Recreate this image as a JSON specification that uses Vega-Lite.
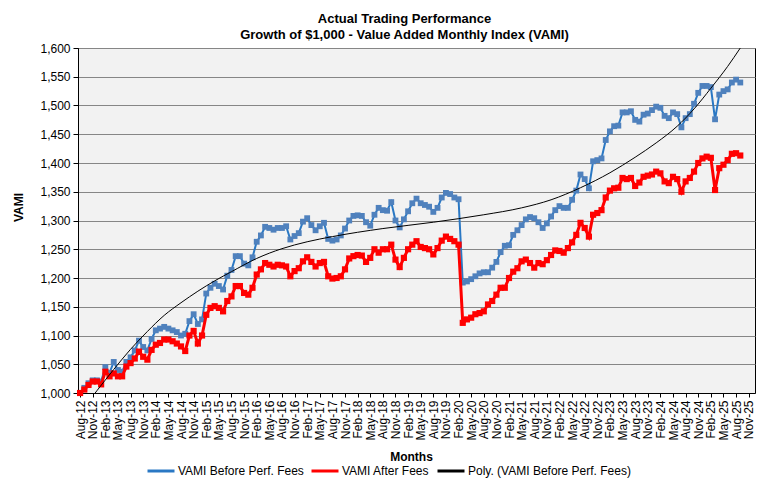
{
  "$schema": "https://vega.github.io/schema/vega-lite/v6.json",
  "width": 677,
  "height": 345,
  "autosize": "none",
  "padding": {"left": 78, "top": 48, "right": 25, "bottom": 99},
  "background": "white",
  "title": {
    "text": ["Actual Trading Performance", "Growth of $1,000 - Value Added Monthly Index (VAMI)"],
    "font": "Liberation Sans",
    "fontSize": 13,
    "fontWeight": "bold",
    "color": "#000000",
    "anchor": "middle",
    "dx": -12,
    "offset": 0,
    "lineHeight": 16
  },
  "datasets": {
    "vami": [
      {"m": 0, "before": 1000, "after": 1000}, {"m": 1, "before": 1009, "after": 1006}, {"m": 2, "before": 1017, "after": 1014},
      {"m": 3, "before": 1022, "after": 1020}, {"m": 4, "before": 1022, "after": 1020}, {"m": 5, "before": 1020, "after": 1015},
      {"m": 6, "before": 1045, "after": 1037}, {"m": 7, "before": 1035, "after": 1029}, {"m": 8, "before": 1054, "after": 1034},
      {"m": 9, "before": 1040, "after": 1029}, {"m": 10, "before": 1037, "after": 1029}, {"m": 11, "before": 1054, "after": 1046},
      {"m": 12, "before": 1062, "after": 1052}, {"m": 13, "before": 1074, "after": 1060}, {"m": 14, "before": 1091, "after": 1072},
      {"m": 15, "before": 1080, "after": 1063}, {"m": 16, "before": 1074, "after": 1058}, {"m": 17, "before": 1094, "after": 1075},
      {"m": 18, "before": 1109, "after": 1084}, {"m": 19, "before": 1112, "after": 1087}, {"m": 20, "before": 1115, "after": 1093},
      {"m": 21, "before": 1112, "after": 1093}, {"m": 22, "before": 1109, "after": 1090}, {"m": 23, "before": 1106, "after": 1086},
      {"m": 24, "before": 1100, "after": 1081}, {"m": 25, "before": 1103, "after": 1073}, {"m": 26, "before": 1125, "after": 1100},
      {"m": 27, "before": 1137, "after": 1108}, {"m": 28, "before": 1120, "after": 1086}, {"m": 29, "before": 1128, "after": 1100},
      {"m": 30, "before": 1173, "after": 1136}, {"m": 31, "before": 1183, "after": 1148}, {"m": 32, "before": 1190, "after": 1151},
      {"m": 33, "before": 1186, "after": 1148}, {"m": 34, "before": 1180, "after": 1142}, {"m": 35, "before": 1204, "after": 1160},
      {"m": 36, "before": 1214, "after": 1168}, {"m": 37, "before": 1238, "after": 1186}, {"m": 38, "before": 1238, "after": 1186},
      {"m": 39, "before": 1225, "after": 1174}, {"m": 40, "before": 1222, "after": 1171}, {"m": 41, "before": 1236, "after": 1183},
      {"m": 42, "before": 1263, "after": 1206}, {"m": 43, "before": 1274, "after": 1215}, {"m": 44, "before": 1289, "after": 1226},
      {"m": 45, "before": 1287, "after": 1223}, {"m": 46, "before": 1284, "after": 1220}, {"m": 47, "before": 1287, "after": 1223},
      {"m": 48, "before": 1287, "after": 1222}, {"m": 49, "before": 1290, "after": 1220}, {"m": 50, "before": 1267, "after": 1203},
      {"m": 51, "before": 1273, "after": 1212}, {"m": 52, "before": 1278, "after": 1217}, {"m": 53, "before": 1298, "after": 1229},
      {"m": 54, "before": 1304, "after": 1236}, {"m": 55, "before": 1292, "after": 1228}, {"m": 56, "before": 1283, "after": 1220},
      {"m": 57, "before": 1290, "after": 1226}, {"m": 58, "before": 1296, "after": 1228}, {"m": 59, "before": 1268, "after": 1203},
      {"m": 60, "before": 1265, "after": 1199}, {"m": 61, "before": 1267, "after": 1200}, {"m": 62, "before": 1274, "after": 1203},
      {"m": 63, "before": 1286, "after": 1215}, {"m": 64, "before": 1300, "after": 1234}, {"m": 65, "before": 1308, "after": 1238},
      {"m": 66, "before": 1309, "after": 1240}, {"m": 67, "before": 1308, "after": 1239}, {"m": 68, "before": 1297, "after": 1228},
      {"m": 69, "before": 1291, "after": 1235}, {"m": 70, "before": 1310, "after": 1250}, {"m": 71, "before": 1322, "after": 1244},
      {"m": 72, "before": 1318, "after": 1250}, {"m": 73, "before": 1317, "after": 1250}, {"m": 74, "before": 1332, "after": 1258},
      {"m": 75, "before": 1300, "after": 1232}, {"m": 76, "before": 1288, "after": 1219}, {"m": 77, "before": 1302, "after": 1235},
      {"m": 78, "before": 1316, "after": 1250}, {"m": 79, "before": 1330, "after": 1258}, {"m": 80, "before": 1338, "after": 1264},
      {"m": 81, "before": 1330, "after": 1254}, {"m": 82, "before": 1327, "after": 1252}, {"m": 83, "before": 1324, "after": 1250},
      {"m": 84, "before": 1315, "after": 1241}, {"m": 85, "before": 1322, "after": 1252}, {"m": 86, "before": 1340, "after": 1265},
      {"m": 87, "before": 1348, "after": 1272}, {"m": 88, "before": 1346, "after": 1268}, {"m": 89, "before": 1340, "after": 1264},
      {"m": 90, "before": 1337, "after": 1258}, {"m": 91, "before": 1192, "after": 1122}, {"m": 92, "before": 1194, "after": 1128},
      {"m": 93, "before": 1198, "after": 1131}, {"m": 94, "before": 1203, "after": 1137}, {"m": 95, "before": 1208, "after": 1139},
      {"m": 96, "before": 1210, "after": 1142}, {"m": 97, "before": 1210, "after": 1154}, {"m": 98, "before": 1218, "after": 1160},
      {"m": 99, "before": 1228, "after": 1171}, {"m": 100, "before": 1245, "after": 1183}, {"m": 101, "before": 1256, "after": 1183},
      {"m": 102, "before": 1257, "after": 1200}, {"m": 103, "before": 1275, "after": 1211}, {"m": 104, "before": 1283, "after": 1217},
      {"m": 105, "before": 1292, "after": 1229}, {"m": 106, "before": 1302, "after": 1232}, {"m": 107, "before": 1306, "after": 1226},
      {"m": 108, "before": 1304, "after": 1218}, {"m": 109, "before": 1297, "after": 1226}, {"m": 110, "before": 1287, "after": 1224},
      {"m": 111, "before": 1295, "after": 1231}, {"m": 112, "before": 1307, "after": 1240}, {"m": 113, "before": 1318, "after": 1248},
      {"m": 114, "before": 1325, "after": 1247}, {"m": 115, "before": 1322, "after": 1244}, {"m": 116, "before": 1322, "after": 1252},
      {"m": 117, "before": 1336, "after": 1262}, {"m": 118, "before": 1352, "after": 1275}, {"m": 119, "before": 1380, "after": 1296},
      {"m": 120, "before": 1372, "after": 1287}, {"m": 121, "before": 1356, "after": 1272}, {"m": 122, "before": 1403, "after": 1310},
      {"m": 123, "before": 1405, "after": 1313}, {"m": 124, "before": 1408, "after": 1318}, {"m": 125, "before": 1440, "after": 1340},
      {"m": 126, "before": 1455, "after": 1352}, {"m": 127, "before": 1464, "after": 1356}, {"m": 128, "before": 1465, "after": 1357},
      {"m": 129, "before": 1488, "after": 1374}, {"m": 130, "before": 1488, "after": 1372}, {"m": 131, "before": 1490, "after": 1374},
      {"m": 132, "before": 1475, "after": 1360}, {"m": 133, "before": 1472, "after": 1366}, {"m": 134, "before": 1484, "after": 1376},
      {"m": 135, "before": 1486, "after": 1378}, {"m": 136, "before": 1492, "after": 1380}, {"m": 137, "before": 1498, "after": 1385},
      {"m": 138, "before": 1496, "after": 1382}, {"m": 139, "before": 1482, "after": 1368}, {"m": 140, "before": 1478, "after": 1365},
      {"m": 141, "before": 1488, "after": 1376}, {"m": 142, "before": 1485, "after": 1372}, {"m": 143, "before": 1462, "after": 1350},
      {"m": 144, "before": 1478, "after": 1368}, {"m": 145, "before": 1485, "after": 1374}, {"m": 146, "before": 1503, "after": 1385},
      {"m": 147, "before": 1522, "after": 1400}, {"m": 148, "before": 1534, "after": 1408}, {"m": 149, "before": 1534, "after": 1411},
      {"m": 150, "before": 1532, "after": 1409}, {"m": 151, "before": 1476, "after": 1353}, {"m": 152, "before": 1519, "after": 1391},
      {"m": 153, "before": 1525, "after": 1397}, {"m": 154, "before": 1528, "after": 1405}, {"m": 155, "before": 1540, "after": 1416},
      {"m": 156, "before": 1545, "after": 1417}, {"m": 157, "before": 1540, "after": 1413}
    ],
    "trend": [
      {"m": 0, "poly": 966}, {"m": 4, "poly": 1004}, {"m": 8, "poly": 1041}, {"m": 12, "poly": 1076},
      {"m": 16, "poly": 1107}, {"m": 20, "poly": 1135}, {"m": 24, "poly": 1157}, {"m": 28, "poly": 1177},
      {"m": 32, "poly": 1195}, {"m": 36, "poly": 1211}, {"m": 42, "poly": 1234}, {"m": 48, "poly": 1251},
      {"m": 54, "poly": 1263}, {"m": 60, "poly": 1272}, {"m": 72, "poly": 1286}, {"m": 84, "poly": 1297},
      {"m": 96, "poly": 1310}, {"m": 105, "poly": 1322}, {"m": 112, "poly": 1336}, {"m": 119, "poly": 1357},
      {"m": 126, "poly": 1383}, {"m": 132, "poly": 1410}, {"m": 137, "poly": 1435}, {"m": 142, "poly": 1464},
      {"m": 146, "poly": 1494}, {"m": 150, "poly": 1530}, {"m": 154, "poly": 1568}, {"m": 157, "poly": 1600}
    ]
  },
  "encoding": {
    "x": {
      "field": "m",
      "type": "quantitative",
      "title": "Months",
      "scale": {"domain": [-0.5, 160.5], "nice": false, "zero": false},
      "axis": {
        "values": [0, 3, 6, 9, 12, 15, 18, 21, 24, 27, 30, 33, 36, 39, 42, 45, 48, 51, 54, 57, 60, 63, 66, 69, 72, 75, 78, 81, 84, 87, 90, 93, 96, 99, 102, 105, 108, 111, 114, 117, 120, 123, 126, 129, 132, 135, 138, 141, 144, 147, 150, 153, 156, 159],
        "labelExpr": "['Jan','Feb','Mar','Apr','May','Jun','Jul','Aug','Sep','Oct','Nov','Dec'][(datum.value + 7) % 12] + '-' + (12 + floor((datum.value + 7) / 12))",
        "labelAngle": 270,
        "labelAlign": "right",
        "labelBaseline": "middle",
        "labelPadding": 3,
        "labelOverlap": false,
        "labelFlush": false,
        "tickSize": 4,
        "grid": false,
        "titlePadding": 11,
        "titleX": 333
      }
    }
  },
  "layer": [
    {
      "data": {"name": "vami"},
      "mark": {"type": "line", "strokeWidth": 2},
      "encoding": {
        "y": {
          "field": "before",
          "type": "quantitative",
          "title": "VAMI",
          "scale": {"domain": [1000, 1600], "nice": false, "zero": false},
          "axis": {"values": [1000, 1050, 1100, 1150, 1200, 1250, 1300, 1350, 1400, 1450, 1500, 1550, 1600], "format": ",d", "grid": true, "labelOverlap": false, "tickSize": 5, "labelPadding": 3, "titlePadding": 14, "titleY": 159}
        },
        "color": {
          "datum": "VAMI Before Perf. Fees",
          "scale": {
            "domain": ["VAMI Before Perf. Fees", "VAMI After Fees", "Poly. (VAMI Before Perf. Fees)"],
            "range": ["#2a78c4", "#ff0000", "#000000"]
          },
          "legend": {
            "title": null,
            "orient": "none",
            "direction": "horizontal",
            "legendX": 68,
            "legendY": 408,
            "symbolType": "stroke",
            "symbolSize": 729,
            "symbolStrokeWidth": 3,
            "labelFont": "Liberation Sans",
            "labelFontSize": 12,
            "labelColor": "#000000",
            "labelOffset": 2,
            "columnPadding": 1,
            "labelLimit": 300
          }
        }
      }
    },
    {
      "data": {"name": "vami"},
      "mark": {"type": "point", "shape": "square", "filled": true, "size": 34, "opacity": 1, "color": "#4f81bd"},
      "encoding": {
        "y": {
          "field": "before",
          "type": "quantitative",
          "title": "VAMI",
          "scale": {"domain": [1000, 1600], "nice": false, "zero": false},
          "axis": {"values": [1000, 1050, 1100, 1150, 1200, 1250, 1300, 1350, 1400, 1450, 1500, 1550, 1600], "format": ",d", "grid": true, "labelOverlap": false, "tickSize": 5, "labelPadding": 3, "titlePadding": 14, "titleY": 159}
        }
      }
    },
    {
      "data": {"name": "vami"},
      "mark": {"type": "line", "strokeWidth": 3},
      "encoding": {
        "y": {
          "field": "after",
          "type": "quantitative",
          "title": "VAMI",
          "scale": {"domain": [1000, 1600], "nice": false, "zero": false},
          "axis": {"values": [1000, 1050, 1100, 1150, 1200, 1250, 1300, 1350, 1400, 1450, 1500, 1550, 1600], "format": ",d", "grid": true, "labelOverlap": false, "tickSize": 5, "labelPadding": 3, "titlePadding": 14, "titleY": 159}
        },
        "color": {"datum": "VAMI After Fees"}
      }
    },
    {
      "data": {"name": "vami"},
      "mark": {"type": "point", "shape": "square", "filled": true, "size": 38, "opacity": 1, "color": "#ff0000"},
      "encoding": {
        "y": {
          "field": "after",
          "type": "quantitative",
          "title": "VAMI",
          "scale": {"domain": [1000, 1600], "nice": false, "zero": false},
          "axis": {"values": [1000, 1050, 1100, 1150, 1200, 1250, 1300, 1350, 1400, 1450, 1500, 1550, 1600], "format": ",d", "grid": true, "labelOverlap": false, "tickSize": 5, "labelPadding": 3, "titlePadding": 14, "titleY": 159}
        }
      }
    },
    {
      "data": {"name": "trend"},
      "mark": {"type": "line", "strokeWidth": 1, "interpolate": "monotone", "clip": true},
      "encoding": {
        "y": {
          "field": "poly",
          "type": "quantitative",
          "title": "VAMI",
          "scale": {"domain": [1000, 1600], "nice": false, "zero": false},
          "axis": {"values": [1000, 1050, 1100, 1150, 1200, 1250, 1300, 1350, 1400, 1450, 1500, 1550, 1600], "format": ",d", "grid": true, "labelOverlap": false, "tickSize": 5, "labelPadding": 3, "titlePadding": 14, "titleY": 159}
        },
        "color": {"datum": "Poly. (VAMI Before Perf. Fees)"}
      }
    }
  ],
  "config": {
    "font": "Liberation Sans",
    "view": {"fill": "#f2f2f2", "stroke": "#000000", "strokeWidth": 1},
    "axis": {
      "labelFont": "Liberation Sans",
      "labelFontSize": 12,
      "labelColor": "#000000",
      "titleFont": "Liberation Sans",
      "titleFontSize": 12,
      "titleFontWeight": "bold",
      "titleColor": "#000000",
      "domainColor": "#000000",
      "tickColor": "#000000",
      "gridColor": "#868686",
      "gridWidth": 1
    }
  }
}
